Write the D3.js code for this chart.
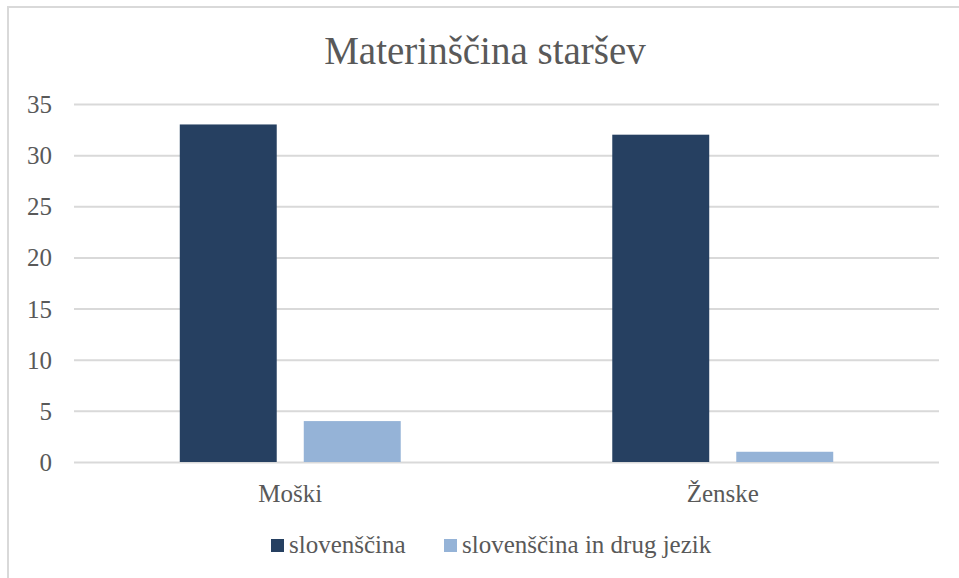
<!DOCTYPE html>
<html>
<head>
<meta charset="utf-8">
<script src="https://cdn.jsdelivr.net/npm/d3@7/dist/d3.min.js"></script>
<style>
  body { margin: 0; background: #fff; }
  text { font-family: "Liberation Serif", "DejaVu Serif", serif; fill: #595959; }
</style>
</head>
<body>
<script>
// data
const categories = ['Moški', 'Ženske']
const seriesNames = ['slovenščina', 'slovenščina in drug jezik']
const slovenscina = [33, 32]
const slovenscinaDrug = [4, 1]
const yTicks = [0, 5, 10, 15, 20, 25, 30, 35]
const colors = ['#264061', '#95b3d7']

const width = 959
const height = 578

// plot area
const plotLeft = 74, plotRight = 939, plotTop = 104, plotBottom = 462

const svg = d3.select('body').append('svg')
  .attr('width', width)
  .attr('height', height)

// chart border (only top and left are visible in the crop)
svg.append('rect')
  .attr('x', 8).attr('y', 7)
  .attr('width', 970).attr('height', 600)
  .attr('fill', 'none')
  .attr('stroke', '#d9d9d9')
  .attr('stroke-width', 2)

svg.append('text')
  .attr('x', 485).attr('y', 64)
  .attr('text-anchor', 'middle')
  .style('font-size', '39px')
  .text('Materinščina staršev')

const yScale = d3.scaleLinear().domain([0, 35]).range([plotBottom, plotTop])
const x0 = d3.scaleBand().domain(categories).range([plotLeft, plotRight])
const x1 = d3.scaleBand().domain(seriesNames)
  .range([0, x0.bandwidth()])
  .paddingInner(0.218)
  .paddingOuter(0.853)

// gridlines + y labels
const yAxis = d3.axisLeft(yScale).tickValues(yTicks).tickSize(-(plotRight - plotLeft)).tickPadding(22)
const gy = svg.append('g').attr('transform', 'translate(' + plotLeft + ',0)').call(yAxis)
gy.select('.domain').remove()
gy.selectAll('line').attr('stroke', '#d9d9d9').attr('stroke-width', 2)
gy.selectAll('text').style('font-size', '25px').attr('fill', '#595959').attr('dy', '0.34em')

// x labels
const xAxis = d3.axisBottom(x0).tickSize(0).tickPadding(22)
const gx = svg.append('g').attr('transform', 'translate(0,' + plotBottom + ')').call(xAxis)
gx.select('.domain').remove()
gx.selectAll('text').style('font-size', '25px').attr('fill', '#595959')

// bars
const rows = categories.map((c, i) => ({ cat: c, values: [slovenscina[i], slovenscinaDrug[i]] }))
const groups = svg.selectAll('g.cat').data(rows).enter().append('g')
  .attr('class', 'cat')
  .attr('transform', d => 'translate(' + x0(d.cat) + ',0)')

groups.selectAll('rect')
  .data(d => d.values.map((v, j) => ({ name: seriesNames[j], value: v, j: j })))
  .enter().append('rect')
  .attr('x', d => x1(d.name))
  .attr('width', x1.bandwidth())
  .attr('y', d => yScale(d.value))
  .attr('height', d => plotBottom - yScale(d.value))
  .attr('fill', d => colors[d.j])

// legend
const legendX = [271, 444]
const legend = svg.selectAll('g.leg').data(seriesNames).enter().append('g')
  .attr('class', 'leg')
  .attr('transform', (d, i) => 'translate(' + legendX[i] + ',539)')
legend.append('rect')
  .attr('width', 13).attr('height', 13)
  .attr('fill', (d, i) => colors[i])
legend.append('text')
  .attr('x', 18).attr('y', 14)
  .style('font-size', '25px')
  .text(d => d)
</script>
</body>
</html>
